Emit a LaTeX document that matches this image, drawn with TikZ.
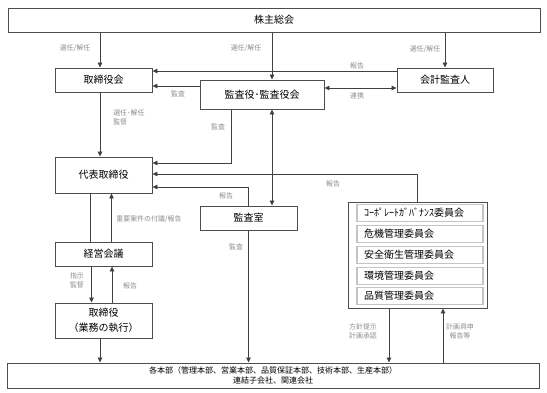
\documentclass[tikz,border=0pt]{standalone}
\usepackage{fontspec}
\setmainfont{Noto Sans CJK JP}
\usepackage{tikz}
\usepackage{xcolor}
\usetikzlibrary{arrows.meta,positioning,calc}
\definecolor{boxline}{HTML}{4D4D4D}
\definecolor{wire}{HTML}{404040}
\definecolor{lblgray}{HTML}{8C8C8C}
\definecolor{rowline}{HTML}{C4C4C4}
\tikzset{
  orgbox/.style={draw=boxline,line width=0.75pt,inner sep=0pt,align=center,
                 minimum width=72.75pt,minimum height=18pt,
                 font=\fontsize{7.5}{11}\selectfont},
  rowbox/.style={draw=rowline,line width=0.9pt,inner xsep=5.25pt,inner ysep=0pt,
                 text width=84pt,align=left,minimum height=12.75pt,
                 font=\fontsize{7.5}{9}\selectfont},
  lbl/.style={font=\fontsize{5.2}{6.75}\selectfont,text=lblgray,inner sep=0pt,
              align=center},
  arr/.style={-{Stealth[length=1.3mm,width=1.2mm,inset=0pt]},line width=0.6pt,
              draw=wire},
  darr/.style={{Stealth[length=1.3mm,width=1.2mm,inset=0pt]}-{Stealth[length=1.3mm,width=1.2mm,inset=0pt]},
               line width=0.6pt,draw=wire},
  plainln/.style={line width=0.6pt,draw=wire}
}
\begin{document}
\begin{tikzpicture}[x=0.75pt,y=-0.75pt]
    \path[use as bounding box] (0,0) rectangle (547,393);
    % boxes
    \node[orgbox,minimum width=399pt] (soukai) at (274,20) {株主総会};
    \node[orgbox] (torikai) at (103.5,80) {取締役会};
    \node[orgbox,minimum width=93pt,minimum height=21.75pt] (kansa) at (262,94.5)
      {監査役･監査役会};
    \node[orgbox,minimum width=72pt] (kaikei) at (445,80) {会計監査人};
    \node[orgbox,minimum height=27pt] (daihyo) at (103.5,175) {代表取締役};
    \node[orgbox] (kansashitsu) at (248.5,218) {監査室};
    \node[orgbox] (keiei) at (103.5,254) {経営会議};
    \node[orgbox,minimum height=26.25pt] (torishimari) at (103.5,320.5)
      {取締役\\（業務の執行）};
    \node[orgbox,minimum width=399pt,minimum height=18.75pt,
          font=\fontsize{6}{7.5}\selectfont] (kakuhonbu) at (273,375.5)
      {各本部（管理本部、営業本部、品質保証本部、技術本部、生産本部）\\
       連結子会社、関連会社};
    \node[orgbox,minimum width=104.25pt,minimum height=79.5pt] (iinkai)
      at (417.5,255) {};
    \node[rowbox] (row1) at (420,213) {ｺｰﾎﾟﾚｰﾄｶﾞﾊﾞﾅﾝｽ委員会};
    \node[rowbox] (row2) at (420,234) {危機管理委員会};
    \node[rowbox] (row3) at (420,255) {安全衛生管理委員会};
    \node[rowbox] (row4) at (420,276) {環境管理委員会};
    \node[rowbox] (row5) at (420,296) {品質管理委員会};
    % connectors
    \coordinate (a1) at ($(torikai.north)+(-3.5,0)$);
    \draw[arr] (a1 |- soukai.south) -- (a1);
    \coordinate (a2) at ($(kansa.north)+(10,0)$);
    \draw[arr] (a2 |- soukai.south) -- (a2);
    \draw[arr] (kaikei.north |- soukai.south) -- (kaikei.north);
    \coordinate (b1) at ($(kaikei.west)+(0,-9)$);
    \draw[arr] (b1) -- (b1 -| torikai.east);
    \coordinate (b2) at ($(kaikei.west)+(0,8)$);
    \draw[darr] (b2 -| kansa.east) -- (b2);
    \coordinate (b3) at ($(torikai.east)+(0,6)$);
    \draw[arr] (b3 -| kansa.west) -- (b3);
    \coordinate (b4) at ($(torikai.south)+(-3.5,0)$);
    \draw[arr] (b4) -- (b4 |- daihyo.north);
    \coordinate (b5) at ($(kansa.south)+(-31,0)$);
    \coordinate (b6) at ($(daihyo.east)+(0,-12)$);
    \draw[arr] (b5) |- (b6);
    \draw[darr] (a2 |- kansa.south) -- (a2 |- kansashitsu.north);
    \coordinate (b7) at ($(daihyo.east)+(0,-1)$);
    \draw[arr] (iinkai.north) |- (b7);
    \coordinate (b8) at ($(daihyo.east)+(0,12)$);
    \draw[arr] (kansashitsu.north) |- (b8);
    \draw[arr] (kansashitsu.south) -- (kansashitsu.south |- kakuhonbu.north);
    \coordinate (c1) at ($(keiei.north)+(-13.5,0)$);
    \draw[plainln] (c1 |- daihyo.south) -- (c1);
    \coordinate (c2) at ($(keiei.north)+(8,0)$);
    \draw[arr] (c2) -- (c2 |- daihyo.south);
    \coordinate (c3) at ($(keiei.south)+(-12,0)$);
    \draw[arr] (c3) -- (c3 |- torishimari.north);
    \coordinate (c4) at ($(torishimari.north)+(8.5,0)$);
    \draw[arr] (c4) -- (c4 |- keiei.south);
    \coordinate (c5) at ($(torishimari.south)+(-3.5,0)$);
    \draw[arr] (c5) -- (c5 |- kakuhonbu.north);
    \coordinate (c6) at ($(iinkai.south)+(-28.5,0)$);
    \draw[arr] (c6) -- (c6 |- kakuhonbu.north);
    \coordinate (c7) at ($(iinkai.south)+(25.5,0)$);
    \draw[arr] (c7 |- kakuhonbu.north) -- (c7);
    % labels
    \node[lbl] (lSennin1) at (75,48) {選任/解任};
    \node[lbl] (lSennin2) at (246,48) {選任/解任};
    \node[lbl] (lSennin3) at (425,49) {選任/解任};
    \node[lbl] (lHoukoku1) at (357,66) {報告};
    \node[lbl] (lKansa1) at (178,94) {監査};
    \node[lbl] (lRenkei) at (357,96) {連携};
    \node[lbl,anchor=west,align=left] (lKantoku) at (113,117.5) {選任･解任\\監督};
    \node[lbl] (lKansa2) at (218,127) {監査};
    \node[lbl] (lHoukoku2) at (333,184) {報告};
    \node[lbl] (lHoukoku3) at (226,196) {報告};
    \node[lbl] (lFugi) at (149,219) {重要案件の付議/報告};
    \node[lbl] (lKansa3) at (236,247) {監査};
    \node[lbl] (lShiji) at (77,280.5) {指示\\監督};
    \node[lbl] (lHoukoku4) at (130,286) {報告};
    \node[lbl] (lHoushin) at (363,331) {方針提示\\計画承認};
    \node[lbl] (lGushin) at (460,331) {計画具申\\報告等};
  \end{tikzpicture}
\end{document}
